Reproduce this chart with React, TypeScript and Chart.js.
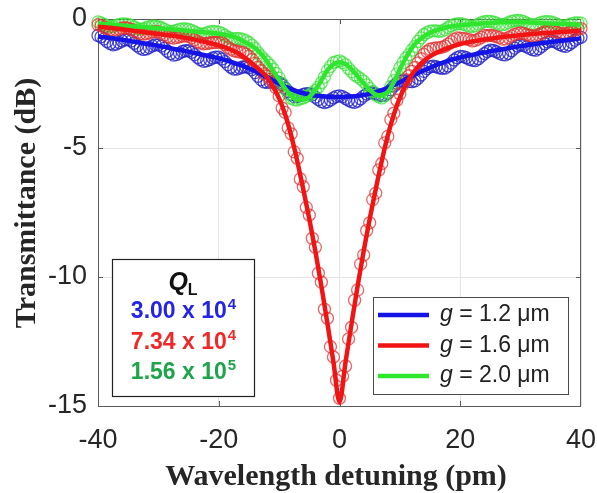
import React, { useEffect, useRef } from "react";
import { Chart, registerables } from "chart.js";
Chart.register(...registerables);

const SANS = "'Liberation Sans', Arial, sans-serif";
const SERIF = "'Liberation Serif', 'Times New Roman', serif";

// Measured detuning (pm), 0.5 pm step
const xData = [
  -40, -39.5, -39, -38.5, -38, -37.5, -37, -36.5, -36, -35.5,
  -35, -34.5, -34, -33.5, -33, -32.5, -32, -31.5, -31, -30.5,
  -30, -29.5, -29, -28.5, -28, -27.5, -27, -26.5, -26, -25.5,
  -25, -24.5, -24, -23.5, -23, -22.5, -22, -21.5, -21, -20.5,
  -20, -19.5, -19, -18.5, -18, -17.5, -17, -16.5, -16, -15.5,
  -15, -14.5, -14, -13.5, -13, -12.5, -12, -11.5, -11, -10.5,
  -10, -9.5, -9, -8.5, -8, -7.5, -7, -6.5, -6, -5.5,
  -5, -4.5, -4, -3.5, -3, -2.5, -2, -1.5, -1, -0.5,
  0, 0.5, 1, 1.5, 2, 2.5, 3, 3.5, 4, 4.5,
  5, 5.5, 6, 6.5, 7, 7.5, 8, 8.5, 9, 9.5,
  10, 10.5, 11, 11.5, 12, 12.5, 13, 13.5, 14, 14.5,
  15, 15.5, 16, 16.5, 17, 17.5, 18, 18.5, 19, 19.5,
  20, 20.5, 21, 21.5, 22, 22.5, 23, 23.5, 24, 24.5,
  25, 25.5, 26, 26.5, 27, 27.5, 28, 28.5, 29, 29.5,
  30, 30.5, 31, 31.5, 32, 32.5, 33, 33.5, 34, 34.5,
  35, 35.5, 36, 36.5, 37, 37.5, 38, 38.5, 39, 39.5,
  40,
];

// Measured transmittance (dB)
const blueData = [
  -0.64, -0.69, -0.77, -0.87, -0.95, -1.0, -0.97, -0.91, -0.85, -0.81,
  -0.8, -0.85, -0.94, -1.04, -1.13, -1.18, -1.16, -1.1, -1.04, -1.0,
  -1.0, -1.05, -1.14, -1.25, -1.34, -1.4, -1.38, -1.32, -1.26, -1.23,
  -1.23, -1.29, -1.38, -1.49, -1.58, -1.64, -1.62, -1.57, -1.51, -1.48,
  -1.48, -1.55, -1.65, -1.77, -1.87, -1.94, -1.94, -1.9, -1.86, -1.85,
  -1.88, -1.96, -2.08, -2.22, -2.35, -2.44, -2.46, -2.44, -2.42, -2.42,
  -2.46, -2.55, -2.68, -2.81, -2.93, -3.01, -3.01, -2.97, -2.92, -2.89,
  -2.89, -2.94, -3.03, -3.12, -3.2, -3.24, -3.21, -3.14, -3.06, -3.0,
  -2.98, -3.01, -3.08, -3.15, -3.21, -3.23, -3.18, -3.09, -2.99, -2.91,
  -2.86, -2.86, -2.9, -2.94, -2.97, -2.96, -2.87, -2.74, -2.6, -2.49,
  -2.41, -2.39, -2.4, -2.42, -2.43, -2.4, -2.3, -2.17, -2.03, -1.92,
  -1.85, -1.83, -1.85, -1.89, -1.91, -1.9, -1.82, -1.71, -1.59, -1.5,
  -1.45, -1.46, -1.5, -1.56, -1.6, -1.61, -1.54, -1.44, -1.34, -1.26,
  -1.21, -1.22, -1.27, -1.33, -1.38, -1.39, -1.33, -1.23, -1.13, -1.05,
  -1.01, -1.03, -1.08, -1.14, -1.19, -1.21, -1.15, -1.06, -0.96, -0.89,
  -0.85, -0.87, -0.92, -0.99, -1.04, -1.06, -1.0, -0.91, -0.82, -0.75,
  -0.71,
];
const redData = [
  -0.22, -0.26, -0.32, -0.38, -0.42, -0.44, -0.42, -0.39, -0.35, -0.34,
  -0.35, -0.4, -0.46, -0.53, -0.57, -0.59, -0.57, -0.54, -0.5, -0.49,
  -0.5, -0.55, -0.61, -0.68, -0.72, -0.74, -0.72, -0.69, -0.66, -0.65,
  -0.67, -0.73, -0.8, -0.88, -0.93, -0.96, -0.95, -0.93, -0.91, -0.91,
  -0.9, -0.91, -1.0, -1.1, -1.17, -1.23, -1.25, -1.28, -1.3, -1.36,
  -1.44, -1.57, -1.72, -1.87, -2.0, -2.12, -2.2, -2.34, -2.47, -2.67,
  -2.98, -3.45, -3.62, -4.22, -4.45, -5.15, -5.4, -6.2, -6.5, -7.3,
  -7.6, -8.5, -8.85, -9.85, -10.2, -11.25, -11.6, -12.7, -13.1, -14.0,
  -14.7, -13.85, -13.45, -12.4, -11.95, -10.9, -10.5, -9.5, -9.15, -8.2,
  -7.9, -7.0, -6.75, -5.85, -5.6, -4.8, -4.55, -3.9, -3.65, -3.15,
  -2.9, -2.55, -2.35, -2.2, -2.03, -1.88, -1.7, -1.54, -1.37, -1.26,
  -1.17, -1.14, -1.12, -1.12, -1.09, -1.05, -0.97, -0.88, -0.79, -0.73,
  -0.74, -0.75, -0.77, -0.8, -0.85, -0.83, -0.78, -0.71, -0.64, -0.65,
  -0.63, -0.65, -0.68, -0.72, -0.78, -0.77, -0.72, -0.66, -0.6, -0.56,
  -0.54, -0.56, -0.6, -0.64, -0.66, -0.65, -0.61, -0.55, -0.49, -0.46,
  -0.45, -0.47, -0.51, -0.56, -0.58, -0.57, -0.53, -0.48, -0.42, -0.38,
  -0.37,
];
const greenData = [
  -0.11, -0.15, -0.21, -0.27, -0.3, -0.29, -0.25, -0.21, -0.19, -0.19,
  -0.21, -0.25, -0.31, -0.37, -0.39, -0.38, -0.34, -0.3, -0.28, -0.28,
  -0.3, -0.34, -0.4, -0.46, -0.49, -0.48, -0.44, -0.4, -0.38, -0.38,
  -0.4, -0.44, -0.5, -0.56, -0.59, -0.58, -0.54, -0.5, -0.48, -0.49,
  -0.51, -0.56, -0.63, -0.71, -0.75, -0.77, -0.75, -0.76, -0.79, -0.84,
  -0.91, -1.02, -1.14, -1.31, -1.44, -1.57, -1.67, -1.8, -1.94, -2.11,
  -2.29, -2.5, -2.72, -2.91, -3.07, -3.12, -3.14, -3.09, -3.06, -3.0,
  -2.96, -2.86, -2.77, -2.64, -2.47, -2.25, -2.0, -1.84, -1.69, -1.65,
  -1.62, -1.69, -1.77, -1.92, -2.04, -2.16, -2.24, -2.32, -2.42, -2.55,
  -2.69, -2.81, -2.95, -3.02, -3.06, -2.97, -2.84, -2.61, -2.39, -2.13,
  -1.89, -1.7, -1.52, -1.38, -1.21, -1.06, -0.87, -0.73, -0.6, -0.53,
  -0.47, -0.46, -0.46, -0.48, -0.46, -0.41, -0.33, -0.26, -0.21, -0.19,
  -0.18, -0.2, -0.24, -0.28, -0.29, -0.26, -0.2, -0.14, -0.1, -0.09,
  -0.09, -0.12, -0.16, -0.21, -0.22, -0.2, -0.14, -0.09, -0.06, -0.05,
  -0.06, -0.1, -0.15, -0.21, -0.23, -0.22, -0.17, -0.13, -0.1, -0.1,
  -0.11, -0.15, -0.2, -0.26, -0.28, -0.27, -0.22, -0.18, -0.15, -0.15,
  -0.16,
];

// Fitted curves, 1 pm step
const fitX = [
  -40, -39, -38, -37, -36, -35, -34, -33, -32, -31,
  -30, -29, -28, -27, -26, -25, -24, -23, -22, -21,
  -20, -19, -18, -17, -16, -15, -14, -13, -12, -11,
  -10, -9, -8, -7, -6, -5, -4, -3, -2, -1,
  0,
  1, 2, 3, 4, 5, 6, 7, 8, 9, 10,
  11, 12, 13, 14, 15, 16, 17, 18, 19, 20,
  21, 22, 23, 24, 25, 26, 27, 28, 29, 30,
  31, 32, 33, 34, 35, 36, 37, 38, 39, 40,
];
const blueFit = [
  -0.68, -0.71, -0.74, -0.77, -0.81, -0.84, -0.88, -0.92, -0.96, -1.0,
  -1.04, -1.08, -1.13, -1.18, -1.22, -1.27, -1.32, -1.37, -1.42, -1.47,
  -1.52, -1.59, -1.66, -1.74, -1.82, -1.92, -2.02, -2.14, -2.26, -2.38,
  -2.5, -2.62, -2.72, -2.81, -2.88, -2.93, -2.97, -2.99, -3.01, -3.02,
  -3.02,
  -3.02, -3.0, -2.98, -2.95, -2.9, -2.84, -2.76, -2.67, -2.56, -2.45,
  -2.34, -2.22, -2.1, -1.99, -1.89, -1.79, -1.7, -1.62, -1.55, -1.49,
  -1.44, -1.39, -1.34, -1.3, -1.25, -1.21, -1.17, -1.13, -1.09, -1.05,
  -1.02, -0.98, -0.95, -0.92, -0.89, -0.86, -0.83, -0.8, -0.78, -0.75,
];
const redFit = [
  -0.3, -0.32, -0.34, -0.37, -0.4, -0.43, -0.46, -0.49, -0.52, -0.55,
  -0.58, -0.61, -0.64, -0.67, -0.71, -0.75, -0.8, -0.85, -0.9, -0.96,
  -1.02, -1.1, -1.19, -1.3, -1.45, -1.62, -1.82, -2.02, -2.25, -2.62,
  -3.08, -3.7, -4.52, -5.5, -6.6, -7.75, -9.0, -10.35, -11.8, -13.3,
  -14.85,
  -13.3, -11.8, -10.35, -9.0, -7.75, -6.6, -5.5, -4.52, -3.7, -3.05,
  -2.55, -2.15, -1.85, -1.62, -1.45, -1.32, -1.21, -1.12, -1.04, -0.97,
  -0.92, -0.87, -0.83, -0.79, -0.76, -0.73, -0.7, -0.67, -0.65, -0.62,
  -0.6, -0.58, -0.56, -0.54, -0.53, -0.51, -0.5, -0.48, -0.47, -0.45,
];
const greenFit = [
  -0.17, -0.19, -0.21, -0.23, -0.25, -0.27, -0.29, -0.3, -0.32, -0.34,
  -0.36, -0.38, -0.4, -0.42, -0.44, -0.46, -0.48, -0.5, -0.52, -0.54,
  -0.57, -0.61, -0.66, -0.73, -0.85, -0.97, -1.12, -1.35, -1.65, -2.0,
  -2.35, -2.7, -2.98, -3.12, -3.12, -3.02, -2.75, -2.38, -1.98, -1.75,
  -1.68,
  -1.75, -1.95, -2.22, -2.48, -2.75, -2.93, -2.97, -2.82, -2.45, -1.95,
  -1.5, -1.12, -0.85, -0.66, -0.53, -0.44, -0.37, -0.31, -0.27, -0.24,
  -0.22, -0.2, -0.18, -0.16, -0.15, -0.14, -0.13, -0.12, -0.12, -0.12,
  -0.13, -0.14, -0.15, -0.16, -0.17, -0.18, -0.19, -0.2, -0.21, -0.22,
];

const seriesLabels = ["1.2", "1.6", "2.0"];
const qBases = ["3.00 x 10", "7.34 x 10", "1.56 x 10"];
const qExps = ["4", "4", "5"];
const xTitle = "Wavelength detuning (pm)";
const yTitle = "Transmittance (dB)";
const lineColors = ["#1414e6", "#f01414", "#2ee62e"];
const markerColors = ["rgba(35,35,200,0.8)", "rgba(225,50,50,0.75)", "rgba(55,225,55,0.75)"];
const qColors = ["#2424e8", "#f02828", "#1ea54b"];

const pts = (xs: number[], ys: number[]) => xs.map((x, i) => ({ x, y: ys[i] }));

const overlay = {
  id: "overlay",
  beforeDatasetsDraw(chart: any) {
    const { ctx, chartArea: a, scales } = chart;
    ctx.save();
    ctx.strokeStyle = "#5c5c5c";
    ctx.lineWidth = 1;
    ctx.strokeRect(Math.round(a.left) + 0.5, Math.round(a.top) + 0.5, Math.round(a.right - a.left) - 1, Math.round(a.bottom - a.top));
    ctx.beginPath();
    [-20, 0, 20].forEach((v) => {
      const px = Math.round(scales.x.getPixelForValue(v)) + 0.5;
      ctx.moveTo(px, a.bottom);
      ctx.lineTo(px, a.bottom - 5);
      ctx.moveTo(px, a.top);
      ctx.lineTo(px, a.top + 5);
    });
    [-5, -10].forEach((v) => {
      const py = Math.round(scales.y.getPixelForValue(v)) + 0.5;
      ctx.moveTo(a.left, py);
      ctx.lineTo(a.left + 5, py);
      ctx.moveTo(a.right, py);
      ctx.lineTo(a.right - 5, py);
    });
    ctx.stroke();
    ctx.restore();
  },
  afterDraw(chart: any) {
    const { ctx } = chart;
    ctx.save();
    // axis titles
    ctx.fillStyle = "#262626";
    ctx.font = `bold 30px ${SERIF}`;
    ctx.textAlign = "center";
    ctx.textBaseline = "alphabetic";
    ctx.fillText(xTitle, 336, 485);
    ctx.save();
    ctx.translate(35, 203);
    ctx.rotate(-Math.PI / 2);
    ctx.fillText(yTitle, 0, 0);
    ctx.restore();

    // legend
    ctx.fillStyle = "#fff";
    ctx.fillRect(373, 297, 195, 97);
    ctx.strokeStyle = "#4a4a4a";
    ctx.lineWidth = 1;
    ctx.strokeRect(373.5, 297.5, 195, 97);
    seriesLabels.forEach((lab, i) => {
      const y = 315 + i * 30.5;
      ctx.strokeStyle = lineColors[i];
      ctx.lineWidth = 4.5;
      ctx.beginPath();
      ctx.moveTo(378, y);
      ctx.lineTo(429, y);
      ctx.stroke();
      ctx.fillStyle = "#222";
      ctx.textBaseline = "middle";
      ctx.textAlign = "left";
      ctx.font = `italic 23px ${SANS}`;
      ctx.fillText("g", 440, y);
      const w = ctx.measureText("g").width;
      ctx.font = `23px ${SANS}`;
      ctx.fillText(` = ${lab} μm`, 440 + w, y);
    });
    // Q_L box
    ctx.fillStyle = "#fff";
    ctx.fillRect(112, 259, 142, 137);
    ctx.strokeStyle = "#222";
    ctx.lineWidth = 1.2;
    ctx.strokeRect(112.5, 259.5, 142, 137);
    const cx = 183;
    ctx.textBaseline = "middle";
    ctx.textAlign = "left";
    ctx.font = `italic bold 25px ${SANS}`;
    const qw = ctx.measureText("Q").width;
    ctx.font = `bold 16px ${SANS}`;
    const lw = ctx.measureText("L").width;
    const sx = cx - (qw + lw) / 2;
    ctx.fillStyle = "#111";
    ctx.font = `italic bold 25px ${SANS}`;
    ctx.fillText("Q", sx, 283);
    ctx.font = `bold 16px ${SANS}`;
    ctx.fillText("L", sx + qw, 291);
    qBases.forEach((base, i) => {
      const exp = qExps[i];
      const y = 312 + i * 30.5;
      ctx.font = `bold 23px ${SANS}`;
      const bw = ctx.measureText(base).width;
      ctx.font = `bold 15px ${SANS}`;
      const ew = ctx.measureText(exp).width;
      const x0 = cx - (bw + ew) / 2;
      ctx.fillStyle = qColors[i];
      ctx.font = `bold 23px ${SANS}`;
      ctx.fillText(base, x0, y);
      ctx.font = `bold 15px ${SANS}`;
      ctx.fillText(exp, x0 + bw + 1, y - 7);
    });
    ctx.restore();
  },
};

export default function App() {
  const ref = useRef<HTMLCanvasElement>(null);
  useEffect(() => {
    document.body.style.margin = "0";
    const dataSets = [blueData, redData, greenData];
    const fits = [blueFit, redFit, greenFit];
    const markerOrder = [6, 4, 5];
    const lineOrder = [3, 1, 2];
    const datasets: any[] = [];
    dataSets.forEach((d, i) => {
      datasets.push({
        label: `data ${seriesLabels[i]}`,
        data: pts(xData, d),
        showLine: false,
        pointStyle: "circle",
        pointRadius: 6,
        pointBorderWidth: 1.3,
        pointBorderColor: markerColors[i],
        pointBackgroundColor: "rgba(0,0,0,0)",
        clip: false,
        order: markerOrder[i],
      });
    });
    fits.forEach((f, i) => {
      datasets.push({
        label: `g = ${seriesLabels[i]} μm`,
        data: pts(fitX, f),
        showLine: true,
        borderColor: lineColors[i],
        borderWidth: 4.5,
        pointRadius: 0,
        cubicInterpolationMode: "monotone",
        clip: false,
        order: lineOrder[i],
      });
    });
    const chart = new Chart(ref.current as HTMLCanvasElement, {
      type: "scatter",
      data: { datasets },
      options: {
        responsive: false,
        animation: false,
        devicePixelRatio: 1,
        layout: { padding: { left: 0, right: 16, top: 19, bottom: 0 } },
        plugins: { legend: { display: false }, tooltip: { enabled: false } },
        scales: {
          x: {
            type: "linear",
            min: -40,
            max: 40,
            ticks: {
              stepSize: 20,
              autoSkip: false,
              maxRotation: 0,
              padding: 18,
              color: "#262626",
              font: { family: SANS, size: 27 },
            },
            grid: { color: "#e4e4e4", lineWidth: 1, drawTicks: false },
            border: { display: false },
            title: { display: false },
            afterFit: (s: any) => {
              s.height = 87;
              s.paddingLeft = 0;
              s.paddingRight = 0;
            },
          },
          y: {
            type: "linear",
            min: -15,
            max: 0,
            ticks: {
              stepSize: 5,
              padding: 11,
              color: "#262626",
              font: { family: SANS, size: 27 },
            },
            grid: { color: "#e4e4e4", lineWidth: 1, drawTicks: false },
            border: { display: false },
            title: { display: false },
            afterFit: (s: any) => {
              s.width = 98;
              s.paddingTop = 0;
              s.paddingBottom = 0;
            },
          },
        },
      } as any,
      plugins: [overlay],
    });
    return () => chart.destroy();
  }, []);
  return (
    <div style={{ position: "absolute", left: 0, top: 0, width: 597, height: 493, background: "#fff" }}>
      <canvas ref={ref} width={597} height={493} style={{ width: 597, height: 493, display: "block" }} />
    </div>
  );
}
